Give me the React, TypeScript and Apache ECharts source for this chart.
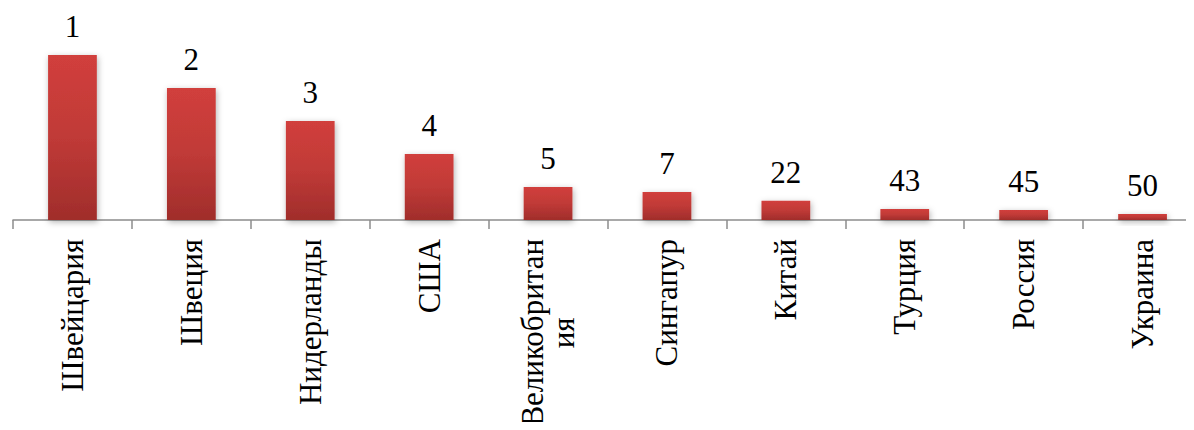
import React, { useEffect, useRef } from "react";
import * as echarts from "echarts";

const categories = [
  "Швейцария",
  "Швеция",
  "Нидерланды",
  "США",
  "Великобритания",
  "Сингапур",
  "Китай",
  "Турция",
  "Россия",
  "Украина",
];
// rank shown above each bar
const ranks = [1, 2, 3, 4, 5, 7, 22, 43, 45, 50];
// bar heights (relative score)
const scores = [5, 4, 3, 2, 1, 0.85, 0.58, 0.33, 0.3, 0.18];

const FONT = "Times New Roman, Liberation Serif, serif";
const MAX_CHARS = 12;

export default function App() {
  const ref = useRef<HTMLDivElement>(null);
  useEffect(() => {
    if (!ref.current) return;
    const chart = echarts.init(ref.current, undefined, { renderer: "svg" });
    chart.setOption({
      animation: false,
      textStyle: { fontFamily: FONT },
      grid: {
        left: 5,
        right: -16,
        top: 14,
        bottom: 202,
        containLabel: false,
        outerBoundsMode: "none",
      },
      xAxis: {
        type: "category",
        data: categories,
        boundaryGap: true,
        axisLine: { show: true, lineStyle: { color: "#8c8c8c", width: 1.5 } },
        axisTick: { show: true, length: 9, lineStyle: { color: "#8c8c8c", width: 1.5 } },
        axisLabel: {
          rotate: 90,
          interval: 0,
          margin: 19,
          fontFamily: FONT,
          fontSize: 31,
          color: "#000",
          lineHeight: 31,
          formatter: (v: string) =>
            v.length > MAX_CHARS
              ? "{c|" + v.slice(0, MAX_CHARS) + "}\n{c|" + v.slice(MAX_CHARS) + "}"
              : "{c|" + v + "}",
          rich: {
            c: {
              align: "center",
              fontFamily: FONT,
              fontSize: 31,
              lineHeight: 31,
              color: "#000",
            },
          },
        },
      },
      yAxis: {
        type: "value",
        min: 0,
        max: 6,
        show: false,
        splitLine: { show: false },
      },
      series: [
        {
          type: "bar",
          data: scores,
          barWidth: "41%",
          itemStyle: {
            color: new echarts.graphic.LinearGradient(0, 0, 0, 1, [
              { offset: 0, color: "#d13f3c" },
              { offset: 0.5, color: "#c03a37" },
              { offset: 1, color: "#a02d2b" },
            ]),
            shadowBlur: 6,
            shadowColor: "rgba(0,0,0,0.3)",
            shadowOffsetX: 1,
            shadowOffsetY: 2,
          },
          label: {
            show: true,
            position: "top",
            distance: 13,
            fontFamily: FONT,
            fontSize: 31,
            color: "#000",
            formatter: (p: any) => "{n|" + ranks[p.dataIndex] + "}",
            rich: {
              n: {
                fontFamily: FONT,
                fontSize: 31,
                lineHeight: 31,
                color: "#000",
              },
            },
          },
        },
      ],
    });
    return () => chart.dispose();
  }, []);
  return <div ref={ref} style={{ width: 1178, height: 414 }} />;
}
